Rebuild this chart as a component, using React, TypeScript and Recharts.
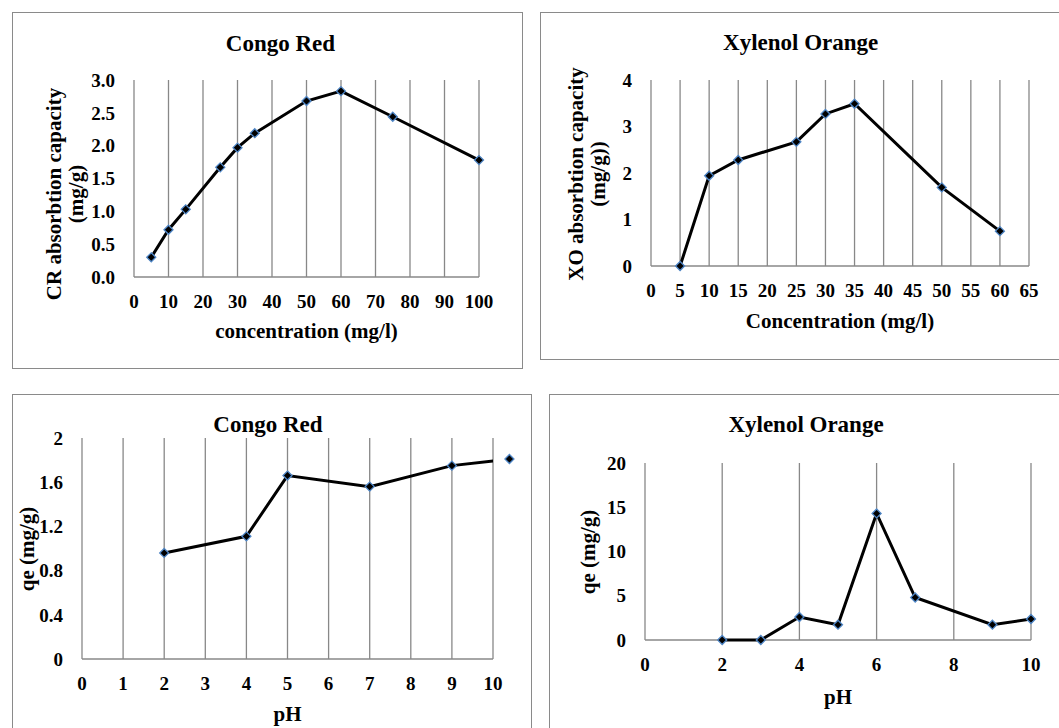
import React from "react";
import {
  LineChart,
  Line,
  XAxis,
  YAxis,
  CartesianGrid,
  ReferenceDot,
} from "recharts";

// concentration study
const crConc = [5, 10, 15, 25, 30, 35, 50, 60, 75, 100];
const crCapacity = [0.3, 0.72, 1.03, 1.67, 1.97, 2.19, 2.68, 2.83, 2.44, 1.78];
const xoConc = [5, 10, 15, 25, 30, 35, 50, 60];
const xoCapacity = [0, 1.94, 2.28, 2.67, 3.27, 3.49, 1.69, 0.75];

// pH study
const crPh = [2, 4, 5, 7, 9, 10.4];
const crQe = [0.96, 1.11, 1.66, 1.56, 1.75, 1.81];
const xoPh = [2, 3, 4, 5, 6, 7, 9, 10];
const xoQe = [0, 0, 2.6, 1.73, 14.3, 4.8, 1.73, 2.37];

// ticks
const crConcTicks = [0, 10, 20, 30, 40, 50, 60, 70, 80, 90, 100];
const crCapTicks = [0, 0.5, 1, 1.5, 2, 2.5, 3];
const xoConcTicks = [0, 5, 10, 15, 20, 25, 30, 35, 40, 45, 50, 55, 60, 65];
const xoCapTicks = [0, 1, 2, 3, 4];
const crPhTicks = [0, 1, 2, 3, 4, 5, 6, 7, 8, 9, 10];
const crQeTicks = [0, 0.4, 0.8, 1.2, 1.6, 2];
const xoPhTicks = [0, 2, 4, 6, 8, 10];
const xoQeTicks = [0, 5, 10, 15, 20];

const FONT = '"Liberation Serif", "Times New Roman", serif';
const GRID = "#888888";
const tickStyle = { fill: "#000", fontSize: 19, fontWeight: 700, fontFamily: FONT };

const Diamond = (props: any) => {
  const { cx, cy, index } = props;
  if (cx == null || cy == null) return null;
  const s = 4.5;
  return (
    <path
      key={`dm-${index}`}
      d={`M${cx},${cy - s}L${cx + s},${cy}L${cx},${cy + s}L${cx - s},${cy}Z`}
      fill="#000"
      stroke="#4f86c6"
      strokeWidth={1.3}
    />
  );
};

const toRows = (xs: number[], ys: number[]) => xs.map((x, i) => ({ x, y: ys[i] }));

interface PanelProps {
  left: number;
  top: number;
  width: number;
  height: number;
  margin: { top: number; right: number; bottom: number; left: number };
  yWidth: number;
  rows: { x: number; y: number }[];
  xTicks: number[];
  yTicks: number[];
  yFormat?: (v: number) => string;
  clipX?: boolean;
  extraDot?: { x: number; y: number };
}

const Panel = (p: PanelProps) => (
  <div style={{ position: "absolute", left: p.left, top: p.top }}>
    <LineChart width={p.width} height={p.height} data={p.rows} margin={p.margin}>
      {/* vertical grid + baseline drawn under the series */}
      <CartesianGrid
        horizontalValues={[p.yTicks[0]]}
        stroke={GRID}
        strokeWidth={1.3}
      />
      <XAxis
        dataKey="x"
        type="number"
        domain={[p.xTicks[0], p.xTicks[p.xTicks.length - 1]]}
        ticks={p.xTicks}
        interval={0}
        allowDataOverflow={!!p.clipX}
        height={30}
        axisLine={false}
        tickLine={false}
        tickMargin={12}
        tick={tickStyle}
      />
      <YAxis
        type="number"
        domain={[p.yTicks[0], p.yTicks[p.yTicks.length - 1]]}
        ticks={p.yTicks}
        interval={0}
        width={p.yWidth}
        axisLine={false}
        tickLine={false}
        tickMargin={13}
        tick={tickStyle}
        tickFormatter={p.yFormat}
      />
      <Line
        dataKey="y"
        stroke="#000"
        strokeWidth={3}
        dot={Diamond}
        activeDot={false}
        isAnimationActive={false}
      />
      {p.extraDot && (
        <ReferenceDot
          x={p.extraDot.x}
          y={p.extraDot.y}
          ifOverflow="visible"
          shape={Diamond}
        />
      )}
    </LineChart>
  </div>
);

const Box = ({ l, t, w, h }: { l: number; t: number; w: number; h: number }) => (
  <div
    style={{
      position: "absolute",
      left: l,
      top: t,
      width: w,
      height: h,
      boxSizing: "border-box",
      border: "1.5px solid #8a8a8a",
    }}
  />
);

const Title = ({ x, y, size, children }: any) => (
  <text x={x} y={y} textAnchor="middle" fontSize={size} fontWeight={700} fontFamily={FONT} fill="#000">
    {children}
  </text>
);

const VTitle = ({ x, cy, lines }: { x: number; cy: number; lines: string[] }) => (
  <text
    transform={`rotate(-90 ${x} ${cy})`}
    x={x}
    y={cy}
    textAnchor="middle"
    fontSize={21}
    fontWeight={700}
    fontFamily={FONT}
    fill="#000"
  >
    {lines.map((l, i) => (
      <tspan key={l} x={x} dy={i === 0 ? 0 : 22}>
        {l}
      </tspan>
    ))}
  </text>
);

export default function App() {
  const last = crPh.length - 1;
  return (
    <div
      style={{
        position: "absolute",
        left: 0,
        top: 0,
        width: 1059,
        height: 728,
        overflow: "hidden",
        background: "#fff",
      }}
    >
      <Box l={12} t={12} w={511} h={357} />
      <Box l={540} t={12} w={600} h={348} />
      <Box l={12} t={394} w={520} h={400} />
      <Box l={549} t={394} w={600} h={400} />

      <Panel
        left={12}
        top={12}
        width={511}
        height={357}
        margin={{ top: 68, right: 44, bottom: 62, left: 62 }}
        yWidth={60}
        rows={toRows(crConc, crCapacity)}
        xTicks={crConcTicks}
        yTicks={crCapTicks}
        yFormat={(v) => v.toFixed(1)}
      />
      <Panel
        left={540}
        top={12}
        width={519}
        height={348}
        margin={{ top: 68, right: 30, bottom: 64, left: 61 }}
        yWidth={50}
        rows={toRows(xoConc, xoCapacity)}
        xTicks={xoConcTicks}
        yTicks={xoCapTicks}
      />
      <Panel
        left={12}
        top={394}
        width={520}
        height={334}
        margin={{ top: 44, right: 39, bottom: 39, left: 30 }}
        yWidth={40}
        rows={toRows(crPh, crQe)}
        xTicks={crPhTicks}
        yTicks={crQeTicks}
        clipX
        extraDot={{ x: crPh[last], y: crQe[last] }}
      />
      <Panel
        left={549}
        top={394}
        width={510}
        height={334}
        margin={{ top: 69, right: 28, bottom: 58, left: 46 }}
        yWidth={50}
        rows={toRows(xoPh, xoQe)}
        xTicks={xoPhTicks}
        yTicks={xoQeTicks}
      />

      <svg
        width={1059}
        height={728}
        style={{ position: "absolute", left: 0, top: 0, pointerEvents: "none" }}
      >
        <Title x={280.5} y={51} size={23}>Congo Red</Title>
        <Title x={800.7} y={50} size={23}>Xylenol Orange</Title>
        <Title x={268} y={432} size={23}>Congo Red</Title>
        <Title x={806} y={432} size={23}>Xylenol Orange</Title>

        <Title x={306.5} y={338} size={21}>concentration (mg/l)</Title>
        <Title x={840} y={328} size={21}>Concentration (mg/l)</Title>
        <Title x={287.5} y={721} size={21}>pH</Title>
        <Title x={838} y={704} size={21}>pH</Title>

        <VTitle x={61} cy={194} lines={["CR absorbtion capacity", "(mg/g)"]} />
        <VTitle x={583} cy={174} lines={["XO absorbtion capacity", "(mg/g))"]} />
        <VTitle x={34} cy={549} lines={["qe (mg/g)"]} />
        <VTitle x={595} cy={552} lines={["qe (mg/g)"]} />
      </svg>
    </div>
  );
}
